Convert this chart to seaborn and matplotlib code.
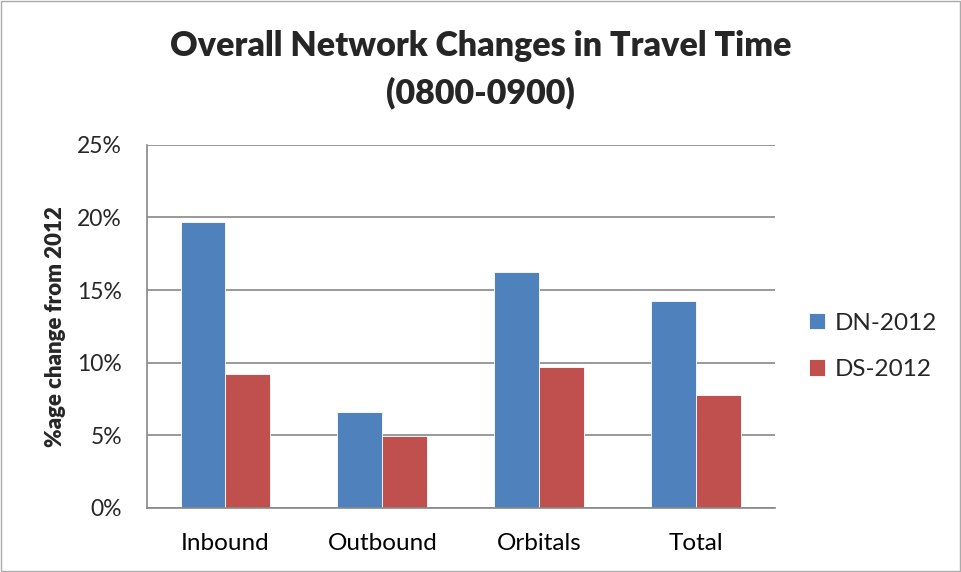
import matplotlib
matplotlib.use("Agg")
import matplotlib.pyplot as plt
import numpy as np
import pandas as pd
import seaborn as sns
from matplotlib.ticker import PercentFormatter

# values (percent change from 2012)
categories = ["Inbound", "Outbound", "Orbitals", "Total"]
dn_2012 = [19.7, 6.6, 16.25, 14.25]
ds_2012 = [9.2, 4.95, 9.7, 7.8]
series = ["DN-2012", "DS-2012"]
colors = ["#4F81BD", "#C0504D"]

df = pd.DataFrame({
    "cat": categories * 2,
    "val": dn_2012 + ds_2012,
    "series": [series[0]] * 4 + [series[1]] * 4,
})

sns.set_style("white")
plt.rcParams["font.family"] = ["Lato", "DejaVu Sans"]

fig = plt.figure(figsize=(9.61, 5.72), dpi=100)
ax = fig.add_axes([0.153, 0.112, 0.653, 0.635])

sns.barplot(data=df, x="cat", y="val", hue="series", palette=colors,
            width=0.573, ax=ax, saturation=1, linewidth=0.6,
            edgecolor="white")

ax.set_ylim(0, 25)
ax.set_xlim(-0.5, 3.5)
ax.set_yticks(np.arange(0, 26, 5))
ax.yaxis.set_major_formatter(PercentFormatter(decimals=0))
ax.grid(axis="y", color="#888888", linewidth=1.2)
ax.set_axisbelow(True)
for s in ["top", "right"]:
    ax.spines[s].set_visible(False)
for s in ["left", "bottom"]:
    ax.spines[s].set_color("#888888")
    ax.spines[s].set_linewidth(1.2)

ax.set_xticks(np.arange(-0.5, 4, 1), minor=True)
ax.tick_params(axis="x", which="major", length=0, labelsize=17.5, pad=18, colors="black")
ax.tick_params(axis="x", which="minor", length=6, width=1.2, color="#888888")
ax.tick_params(axis="y", length=6, width=1.2, color="#888888", labelsize=16.5, pad=12)

ax.set_xlabel("")
ax.set_ylabel("%age change from 2012", fontsize=16, fontweight="heavy", labelpad=8)

fig.text(0.5, 0.92, "Overall Network Changes in Travel Time", ha="center", va="center",
         fontsize=24.5, fontweight="heavy")
fig.text(0.5, 0.838, "(0800-0900)", ha="center", va="center",
         fontsize=24.5, fontweight="heavy")

ax.legend(title=None, loc="center left", bbox_to_anchor=(1.02, 0.445), frameon=False,
          fontsize=17.5, labelspacing=1.05, handlelength=0.65, handleheight=0.65, handletextpad=0.4)

fig.patches.append(plt.Rectangle((0.001, 0.001), 0.998, 0.998, transform=fig.transFigure,
                                 fill=False, edgecolor="#AAAAAA", linewidth=1))

fig.savefig("out.png", dpi=100)
